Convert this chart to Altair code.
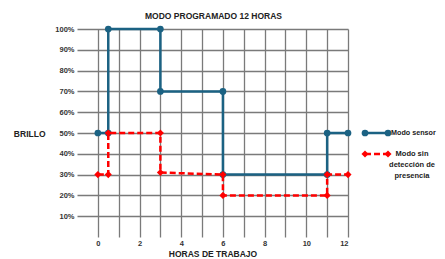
import altair as alt
import pandas as pd

# ---- data ----
horas_sensor = [0, 0.5, 0.5, 3, 3, 6, 6, 11, 11, 12]
brillo_sensor = [50, 50, 100, 100, 70, 70, 30, 30, 50, 50]
horas_sin = [0, 0.5, 0.5, 3, 3, 6, 6, 11, 11, 12]
brillo_sin = [30, 30, 50, 50, 31, 30, 20, 20, 30, 30]
series = ["Modo sensor", "Modo sin detección de presencia"]
colores = ["#1b6283", "#ff0000"]
x_ticks = list(range(13))
y_ticks = list(range(10, 101, 10))

rows = []
for i, (h, b) in enumerate(zip(horas_sensor, brillo_sensor)):
    rows.append({"serie": series[0], "horas": h, "brillo": b, "paso": i})
for i, (h, b) in enumerate(zip(horas_sin, brillo_sin)):
    rows.append({"serie": series[1], "horas": h, "brillo": b, "paso": i})
df = pd.DataFrame(rows)

FONT = "Liberation Sans"
GRID = "#7a7a7a"
color_scale = alt.Scale(domain=series, range=colores)

x_enc = alt.X(
    "horas:Q",
    scale=alt.Scale(domain=[-1, 12], nice=False, zero=False),
    axis=alt.Axis(
        values=x_ticks, grid=True, ticks=False, domain=False, labelOverlap=False,
        labelExpr="datum.value % 2 == 0 ? datum.label : ''",
        labelFont=FONT, labelFontSize=7.5, labelFontWeight="bold", labelColor="#333",
        labelPadding=2, title="HORAS DE TRABAJO", titleFont=FONT, titleFontSize=8.5,
        titleFontWeight="bold", titleColor="#222", titlePadding=3,
        gridColor=GRID, gridWidth=1.3,
    ),
)
y_enc = alt.Y(
    "brillo:Q",
    scale=alt.Scale(domain=[0, 100], nice=False),
    axis=alt.Axis(
        values=y_ticks, grid=True, ticks=False, domain=False, labelOverlap=False,
        labelFlush=False, labelExpr="datum.value + '%'",
        labelFont=FONT, labelFontSize=7.5, labelFontWeight="bold", labelColor="#333",
        labelPadding=3, title="BRILLO", titleFont=FONT, titleFontSize=8.5,
        titleFontWeight="bold", titleColor="#222", titleAngle=0,
        titleAlign="right", titleBaseline="middle", titleX=-32, titleY=104,
        gridColor=GRID, gridWidth=1.3,
    ),
)

base = alt.Chart(df)

blue = base.transform_filter(alt.datum.serie == series[0])
red = base.transform_filter(alt.datum.serie == series[1])

col = alt.Color("serie:N", scale=color_scale, legend=None)

blue_line = blue.mark_line(strokeWidth=2.5).encode(
    x=x_enc, y=y_enc, order="paso:Q", color=col,
)
blue_pts = blue.mark_point(filled=True, shape="circle", size=45, opacity=1).encode(
    x=x_enc, y=y_enc, color=col,
)
red_line = red.mark_line(strokeWidth=2.5, strokeDash=[6, 3]).encode(
    x=x_enc, y=y_enc, order="paso:Q", color=col,
)
red_pts = red.mark_point(filled=True, shape="diamond", size=50, opacity=1).encode(
    x=x_enc, y=y_enc, color=col,
)

# ---- manual legend (pixel positions relative to plot area) ----
leg = pd.DataFrame({"serie": series, "lineas": [["Modo sensor"], ["Modo sin", "detección de", "presencia"]]})
lb = alt.Chart(leg).transform_filter(alt.datum.serie == series[0])
lr = alt.Chart(leg).transform_filter(alt.datum.serie == series[1])

leg_layers = [
    lb.mark_rule(strokeWidth=2.5).encode(
        x=alt.value(288), x2=alt.value(311), y=alt.value(104), color=col),
    lb.mark_point(filled=True, shape="circle", size=45, opacity=1).encode(
        x=alt.value(288), y=alt.value(104), color=col),
    lb.mark_point(filled=True, shape="circle", size=45, opacity=1).encode(
        x=alt.value(311), y=alt.value(104), color=col),
    lb.mark_text(align="left", baseline="middle", font=FONT, fontSize=7.2,
                 fontWeight="bold", color="#222").encode(
        x=alt.value(314), y=alt.value(104), text="lineas"),
    lr.mark_rule(strokeWidth=2.5, strokeDash=[6, 3]).encode(
        x=alt.value(288), x2=alt.value(311), y=alt.value(125), color=col),
    lr.mark_point(filled=True, shape="diamond", size=50, opacity=1).encode(
        x=alt.value(288), y=alt.value(125), color=col),
    lr.mark_point(filled=True, shape="diamond", size=50, opacity=1).encode(
        x=alt.value(311), y=alt.value(125), color=col),
    lr.mark_text(align="center", baseline="top", font=FONT, fontSize=7.5,
                 fontWeight="bold", color="#222", lineHeight=11).encode(
        x=alt.value(335), y=alt.value(121), text="lineas"),
]

chart = alt.layer(blue_line, blue_pts, red_line, red_pts, *leg_layers).properties(
    width=271, height=208,
    autosize=alt.AutoSizeParams(type="none"),
    title=alt.TitleParams("MODO PROGRAMADO 12 HORAS", font=FONT, fontSize=8.5,
                          fontWeight="bold", color="#222", frame="group",
                          anchor="middle", offset=4, dx=1),
    padding={"left": 69, "top": 21, "right": 89, "bottom": 22},
).configure_view(stroke=None).configure_axis(labelOverlap=False)

chart.save("out.html", embed_options={"renderer": "svg", "actions": False})
